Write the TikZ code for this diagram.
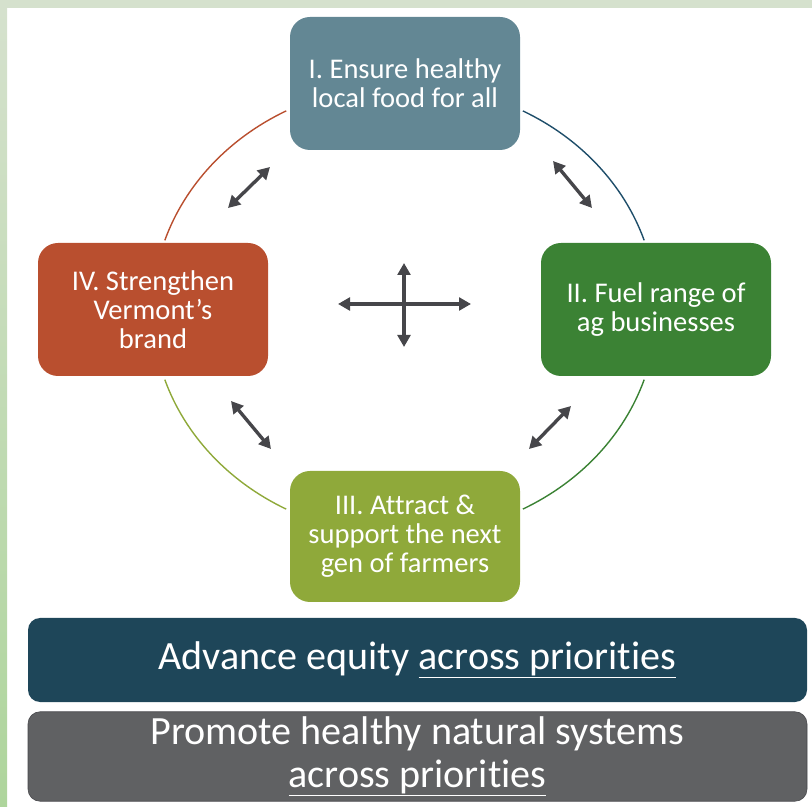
\documentclass[tikz,border=0pt]{standalone}
\usepackage{fontspec}
\setmainfont{Carlito}[Ligatures=NoCommon]
\usetikzlibrary{arrows.meta}

\definecolor{prioI}{HTML}{638794}
\definecolor{prioII}{HTML}{3B8234}
\definecolor{prioIII}{HTML}{8FA93A}
\definecolor{prioIV}{HTML}{B94F2F}
\definecolor{arcI}{HTML}{1F4E6A}
\definecolor{equity}{HTML}{1E4659}
\definecolor{nature}{HTML}{606163}
\definecolor{arrowgray}{HTML}{46464A}
\definecolor{frametop}{HTML}{D5E1CD}
\definecolor{framebot}{HTML}{AED59C}

\begin{document}
\begin{tikzpicture}
\useasboundingbox (0,0) rectangle (20.3,20.15);

% frame
\fill [frametop] (0,19.95) rectangle (20.3,20.15);
\shade [top color=frametop, bottom color=framebot] (0,0) rectangle (0.175,19.95);

% ring
\coordinate (ctr) at (10.1125,12.4);
\begin{scope}[line width=1pt]
    \draw [prioIV] ([shift={(118:6.3cm and 5.6375cm)}]ctr) arc [start angle=118, end angle=162, x radius=6.3cm, y radius=5.6375cm];
    \draw [arcI] ([shift={(18:6.3cm and 5.6375cm)}]ctr) arc [start angle=18, end angle=62, x radius=6.3cm, y radius=5.6375cm];
    \draw [prioIII] ([shift={(198:6.3cm and 5.6375cm)}]ctr) arc [start angle=198, end angle=242, x radius=6.3cm, y radius=5.6375cm];
    \draw [prioII] ([shift={(298:6.3cm and 5.6375cm)}]ctr) arc [start angle=298, end angle=342, x radius=6.3cm, y radius=5.6375cm];
\end{scope}

\begin{scope}[every node/.style={rounded corners=0.5cm, minimum width=5.75cm, minimum height=3.325cm, text=white, align=center, font=\fontsize{20.3pt}{20.6pt}\selectfont}]
    \node [fill=prioI] (one) at (10.125,18.0625) {I. Ensure healthy\\local food for all};
    \node [fill=prioII] (two) at (16.4,12.4125) {II. Fuel range of\\ag businesses};
    \node [fill=prioIII, minimum height=3.275cm] (three) at (10.125,6.7375) {III. Attract \&\\support the next\\gen of farmers};
    \node [fill=prioIV] (four) at (3.825,12.4125) {IV. Strengthen\\Vermont’s\\brand};
\end{scope}

\begin{scope}[every node/.style={rounded corners=0.3cm, minimum width=19.475cm, text=white, align=center, font=\fontsize{28.5pt}{30.6pt}\selectfont}]
    \node [fill=equity, minimum height=2.1cm] (equity) at (10.4375,3.65) {Advance equity \underline{across priorities}};
    \node [fill=nature, draw=arrowgray, minimum height=2.175cm] (nature) at (10.4375,1.2375) {Promote healthy natural systems\\\underline{across priorities}};
\end{scope}

% arrows
\coordinate (tl1) at (5.7,14.95);
\coordinate (tl2) at (6.75,15.975);
\coordinate (tr1) at (13.825,16.125);
\coordinate (tr2) at (14.8,14.95);
\coordinate (bl1) at (5.775,10.125);
\coordinate (bl2) at (6.775,8.925);
\coordinate (br1) at (14.275,10.0);
\coordinate (br2) at (13.225,8.925);
\coordinate (w) at (8.45,12.55);
\coordinate (e) at (11.775,12.55);
\coordinate (n) at (10.1,13.575);
\coordinate (s) at (10.1,11.475);

\begin{scope}[arrowgray, line width=2.4pt, {Triangle[length=0.3cm,width=0.32cm]}-{Triangle[length=0.3cm,width=0.32cm]}]
    \draw (tl1) -- (tl2);
    \draw (tr1) -- (tr2);
    \draw (bl1) -- (bl2);
    \draw (br1) -- (br2);
    \draw (w) -- (e);
    \draw (n) -- (s);
\end{scope}

\end{tikzpicture}
\end{document}
